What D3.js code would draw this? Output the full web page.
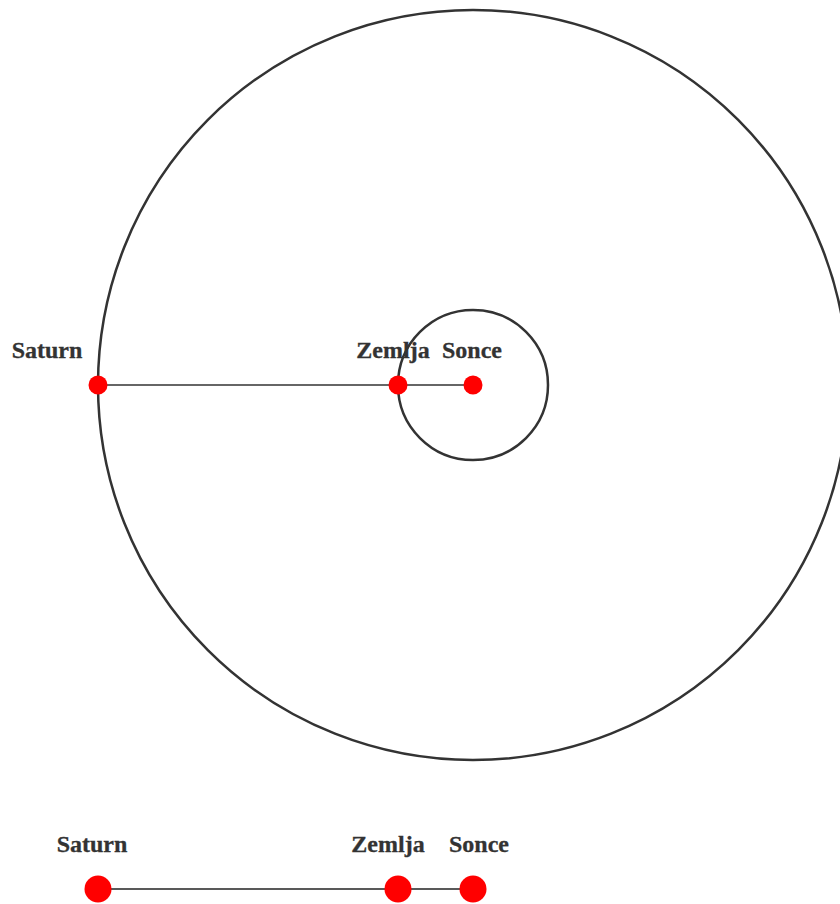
<!DOCTYPE html>
<html><head><meta charset="utf-8">
<script src="https://cdn.jsdelivr.net/npm/d3@7"></script>
<style>body{margin:0;background:#fff;} svg{display:block;}</style>
</head><body>
<svg id="c" width="840" height="904"></svg>
<script>
const bodies = ["Sonce", "Zemlja", "Saturn"];
const distances = [0, 1, 5];
const orbitBodies = ["Zemlja", "Saturn"];
const orbitRadii = [1, 5];
const labelDxTop = [-1, -5, -51];
const labelDxBottom = [6, -10, -6];

(function () {
const svg = d3.select("#c");
const cx = 473, cy = 385;
const r = d3.scaleLinear().domain([0, 5]).range([0, 375]);
const x = d3.scaleLinear().domain([0, 5]).range([cx, cx - 375]);

const gTop = svg.append("g");
gTop.selectAll("circle.orbit").data(orbitRadii).enter().append("circle")
  .attr("class", "orbit").attr("cx", cx).attr("cy", cy).attr("r", d => r(d))
  .attr("fill", "none").attr("stroke", "#333").attr("stroke-width", 2.5);
gTop.append("line").attr("x1", x(distances[0])).attr("x2", x(distances[2]))
  .attr("y1", cy).attr("y2", cy).attr("stroke", "#333").attr("stroke-width", 1.5);
gTop.selectAll("circle.dot").data(distances).enter().append("circle")
  .attr("class", "dot").attr("cx", d => x(d)).attr("cy", cy).attr("r", 9.5)
  .attr("fill", "#ff0000");
gTop.selectAll("text").data(bodies).enter().append("text")
  .attr("x", (d, i) => x(distances[i]) + labelDxTop[i]).attr("y", cy - 27)
  .attr("text-anchor", "middle")
  .attr("font-family", "'Liberation Serif', 'Times New Roman', serif")
  .attr("font-weight", "bold").attr("font-size", 24).attr("fill", "#333")
  .attr("stroke", "#333").attr("stroke-width", 0.3)
  .text(d => d);

const by = 889;
const gBot = svg.append("g");
gBot.append("line").attr("x1", x(distances[0])).attr("x2", x(distances[2]))
  .attr("y1", by).attr("y2", by).attr("stroke", "#222").attr("stroke-width", 1.5);
gBot.selectAll("circle").data(distances).enter().append("circle")
  .attr("cx", d => x(d)).attr("cy", by).attr("r", 13.5).attr("fill", "#ff0000");
gBot.selectAll("text").data(bodies).enter().append("text")
  .attr("x", (d, i) => x(distances[i]) + labelDxBottom[i]).attr("y", by - 37)
  .attr("text-anchor", "middle")
  .attr("font-family", "'Liberation Serif', 'Times New Roman', serif")
  .attr("font-weight", "bold").attr("font-size", 24).attr("fill", "#333")
  .attr("stroke", "#333").attr("stroke-width", 0.3)
  .text(d => d);
})();
</script>
</body></html>
